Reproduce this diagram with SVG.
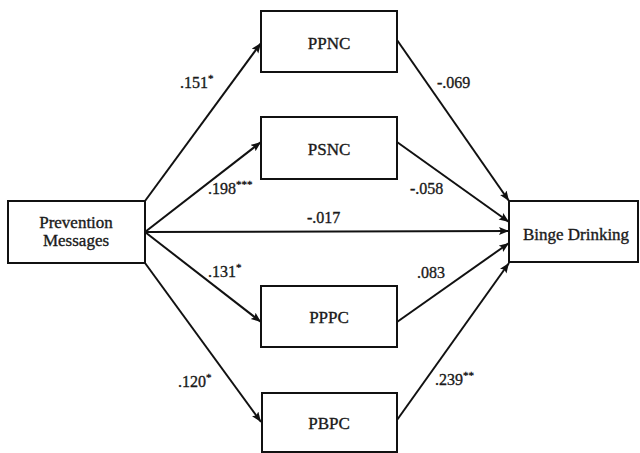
<svg xmlns="http://www.w3.org/2000/svg" width="640" height="453" viewBox="0 0 640 453">
<defs>
<marker id="ah" markerUnits="userSpaceOnUse" markerWidth="11" markerHeight="9" refX="10" refY="4" orient="auto">
<path d="M0,0 L10,4 L0,8 L2,4 z" fill="#111"/>
</marker>
<style>
.box{fill:#fff;stroke:#111;stroke-width:2}
.lbl{font-family:"Liberation Serif","Times New Roman",serif;font-size:17px;fill:#1a1a1a;stroke:#1a1a1a;stroke-width:0.35;text-anchor:middle}
.num{font-family:"Liberation Serif","Times New Roman",serif;font-size:16px;fill:#1a1a1a;stroke:#1a1a1a;stroke-width:0.35}
.sup{font-size:11px}
.edge{stroke:#111;stroke-width:2;fill:none;marker-end:url(#ah)}
</style>
</defs>
<rect width="640" height="453" fill="#fff"/>
<g id="connectors">
<line class="edge" x1="145" y1="201" x2="261" y2="43"/>
<line class="edge" x1="145" y1="232" x2="261" y2="142"/>
<line class="edge" x1="145" y1="232" x2="509" y2="231"/>
<line class="edge" x1="145" y1="232" x2="261" y2="322"/>
<line class="edge" x1="145" y1="263" x2="261" y2="422"/>
<line class="edge" x1="397" y1="40" x2="509" y2="201"/>
<line class="edge" x1="397" y1="142" x2="509" y2="222"/>
<line class="edge" x1="397" y1="322" x2="509" y2="243"/>
<line class="edge" x1="397" y1="420" x2="509" y2="263"/>
</g>
<g id="labels">
<text class="num" x="180" y="88">.151<tspan class="sup" dy="-6">*</tspan></text>
<text class="num" x="437" y="88">-.069</text>
<text class="num" x="208" y="194">.198<tspan class="sup" dy="-6">***</tspan></text>
<text class="num" x="410" y="194">-.058</text>
<text class="num" x="307" y="223">-.017</text>
<text class="num" x="208" y="277">.131<tspan class="sup" dy="-6">*</tspan></text>
<text class="num" x="417" y="278">.083</text>
<text class="num" x="178" y="387">.120<tspan class="sup" dy="-6">*</tspan></text>
<text class="num" x="435" y="385">.239<tspan class="sup" dy="-6">**</tspan></text>
</g>
<g id="prevention">
<rect class="box" x="8" y="201" width="137" height="62"/>
<text class="lbl" x="76" y="228">Prevention</text>
<text class="lbl" x="76" y="246">Messages</text>
</g>
<g id="ppnc">
<rect class="box" x="261" y="11" width="136" height="61"/>
<text class="lbl" x="329" y="49">PPNC</text>
</g>
<g id="psnc">
<rect class="box" x="261" y="117" width="136" height="62"/>
<text class="lbl" x="329" y="155">PSNC</text>
</g>
<g id="binge">
<rect class="box" x="509" y="201" width="129" height="61"/>
<text class="lbl" x="576" y="240">Binge Drinking</text>
</g>
<g id="pppc">
<rect class="box" x="261" y="286" width="136" height="61"/>
<text class="lbl" x="329" y="323">PPPC</text>
</g>
<g id="pbpc">
<rect class="box" x="262" y="393" width="135" height="59"/>
<text class="lbl" x="329" y="429">PBPC</text>
</g>
</svg>
